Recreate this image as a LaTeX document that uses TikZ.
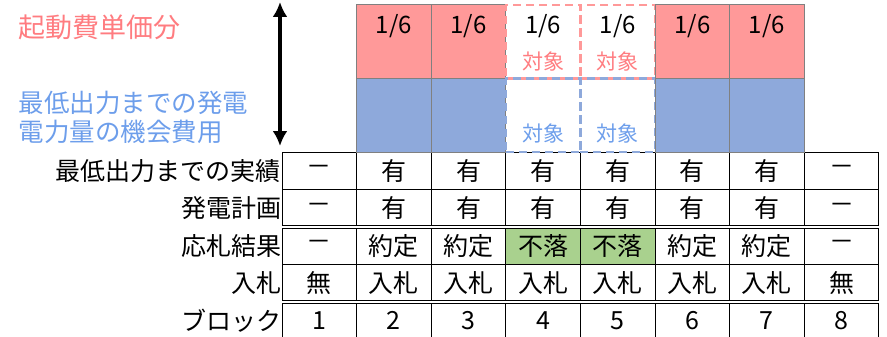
\documentclass[tikz,border=0pt]{standalone}
\usepackage{fontspec}
\setmainfont{Noto Sans CJK JP}
\usetikzlibrary{positioning,arrows.meta}
\definecolor{startred}{HTML}{FF9999}
\definecolor{startredtxt}{HTML}{FF7C80}
\definecolor{oppblue}{HTML}{8EA9DB}
\definecolor{oppbluetxt}{HTML}{6D9EEB}
\definecolor{lossgreen}{HTML}{A9D18E}

\begin{document}
\begin{tikzpicture}[x=1pt, y=-1pt]
    \tikzstyle{every node}=[font=\fontsize{25}{30}\selectfont, inner sep=0pt, outer sep=0pt]
    \tikzset{
        cell/.style={draw, line width=0.9pt, minimum width=74.6pt, minimum height=37.5pt},
        num/.style={font=\fontsize{25}{30}\selectfont},
        frac/.style={font=\fontsize{24}{28}\selectfont},
        rowlab/.style={inner sep=1pt},
        cost/.style={draw=gray, line width=1pt, minimum width=74.6pt, minimum height=73.5pt},
        costdash/.style={cost, line width=2.6pt, dash pattern=on 8pt off 5pt},
        target/.style={font=\fontsize{21}{25}\selectfont}
        }
    \useasboundingbox (0,0) rectangle (887,337);

    %legend
    \node (startlab) [anchor=west, text=startredtxt, font=\fontsize{27}{32}\selectfont] at (19,27) {起動費単価分};
    \node (opplab) [anchor=west, align=left, text=oppbluetxt, font=\fontsize{25.5}{29}\selectfont] at (19,117.5) {最低出力までの発電\\電力量の機会費用};

    %minimum output record
    \node (a1) [cell] at (319.3,170.75) {－};
    \node (a2) [cell, right=0pt of a1] {有};
    \node (a3) [cell, right=0pt of a2] {有};
    \node (a4) [cell, right=0pt of a3] {有};
    \node (a5) [cell, right=0pt of a4] {有};
    \node (a6) [cell, right=0pt of a5] {有};
    \node (a7) [cell, right=0pt of a6] {有};
    \node (a8) [cell, right=0pt of a7] {－};

    %generation plan
    \node (b1) [cell, below=0pt of a1] {－};
    \node (b2) [cell, right=0pt of b1] {有};
    \node (b3) [cell, right=0pt of b2] {有};
    \node (b4) [cell, right=0pt of b3] {有};
    \node (b5) [cell, right=0pt of b4] {有};
    \node (b6) [cell, right=0pt of b5] {有};
    \node (b7) [cell, right=0pt of b6] {有};
    \node (b8) [cell, right=0pt of b7] {－};

    %bid result
    \node (c1) [cell, below=0pt of b1] {－};
    \node (c2) [cell, right=0pt of c1] {約定};
    \node (c3) [cell, right=0pt of c2] {約定};
    \node (c4) [cell, fill=lossgreen, right=0pt of c3] {不落};
    \node (c5) [cell, fill=lossgreen, right=0pt of c4] {不落};
    \node (c6) [cell, right=0pt of c5] {約定};
    \node (c7) [cell, right=0pt of c6] {約定};
    \node (c8) [cell, right=0pt of c7] {－};

    %bid
    \node (d1) [cell, below=0pt of c1] {無};
    \node (d2) [cell, right=0pt of d1] {入札};
    \node (d3) [cell, right=0pt of d2] {入札};
    \node (d4) [cell, right=0pt of d3] {入札};
    \node (d5) [cell, right=0pt of d4] {入札};
    \node (d6) [cell, right=0pt of d5] {入札};
    \node (d7) [cell, right=0pt of d6] {入札};
    \node (d8) [cell, right=0pt of d7] {無};

    %block
    \node (e1) [cell, num, below=0pt of d1] {1};
    \node (e2) [cell, num, right=0pt of e1] {2};
    \node (e3) [cell, num, right=0pt of e2] {3};
    \node (e4) [cell, num, right=0pt of e3] {4};
    \node (e5) [cell, num, right=0pt of e4] {5};
    \node (e6) [cell, num, right=0pt of e5] {6};
    \node (e7) [cell, num, right=0pt of e6] {7};
    \node (e8) [cell, num, right=0pt of e7] {8};

    %row labels
    \node (la) [rowlab, left=0pt of a1] {最低出力までの実績};
    \node (lb) [rowlab, left=0pt of b1] {発電計画};
    \node (lc) [rowlab, left=0pt of c1] {応札結果};
    \node (ld) [rowlab, left=0pt of d1] {入札};
    \node (le) [rowlab, left=0pt of e1] {ブロック};

    %double rules
    \draw [line width=0.8pt, double, double distance=2.2pt] (b1.south west) -- (b8.south east);
    \draw [line width=0.8pt, double, double distance=2.2pt] (d1.south west) -- (d8.south east);

    %cost blocks
    \node (u2) [cost, fill=oppblue, above=0pt of a2] {};
    \node (t2) [cost, fill=startred, above=0pt of u2] {};
    \node (u3) [cost, fill=oppblue, right=0pt of u2] {};
    \node (t3) [cost, fill=startred, right=0pt of t2] {};
    \node (t4) [costdash, draw=startred, right=0pt of t3] {};
    \node (t5) [costdash, draw=startred, right=0pt of t4] {};
    \node (u4) [costdash, draw=oppblue, right=0pt of u3] {};
    \node (u5) [costdash, draw=oppblue, right=0pt of u4] {};
    \node (u6) [cost, fill=oppblue, right=0pt of u5] {};
    \node (t6) [cost, fill=startred, right=0pt of t5] {};
    \node (u7) [cost, fill=oppblue, right=0pt of u6] {};
    \node (t7) [cost, fill=startred, right=0pt of t6] {};

    \node (f2) [frac] at ([yshift=-21pt]t2.north) {1/6};
    \node (f3) [frac] at ([yshift=-21pt]t3.north) {1/6};
    \node (f4) [frac] at ([yshift=-21pt]t4.north) {1/6};
    \node (f5) [frac] at ([yshift=-21pt]t5.north) {1/6};
    \node (f6) [frac] at ([yshift=-21pt]t6.north) {1/6};
    \node (f7) [frac] at ([yshift=-21pt]t7.north) {1/6};

    \node (g4) [target, text=startredtxt] at ([yshift=-57pt]t4.north) {対象};
    \node (g5) [target, text=startredtxt] at ([yshift=-57pt]t5.north) {対象};
    \node (h4) [target, text=oppbluetxt] at ([yshift=18pt]u4.south) {対象};
    \node (h5) [target, text=oppbluetxt] at ([yshift=18pt]u5.south) {対象};

    %span arrow
    \coordinate (arrtop) at (280,2);
    \coordinate (arrbot) at (280,146);
    \draw [{Latex[length=15pt,width=15pt]}-{Latex[length=15pt,width=15pt]}, line width=3.3pt] (arrtop) -- (arrbot);
\end{tikzpicture}
\end{document}
